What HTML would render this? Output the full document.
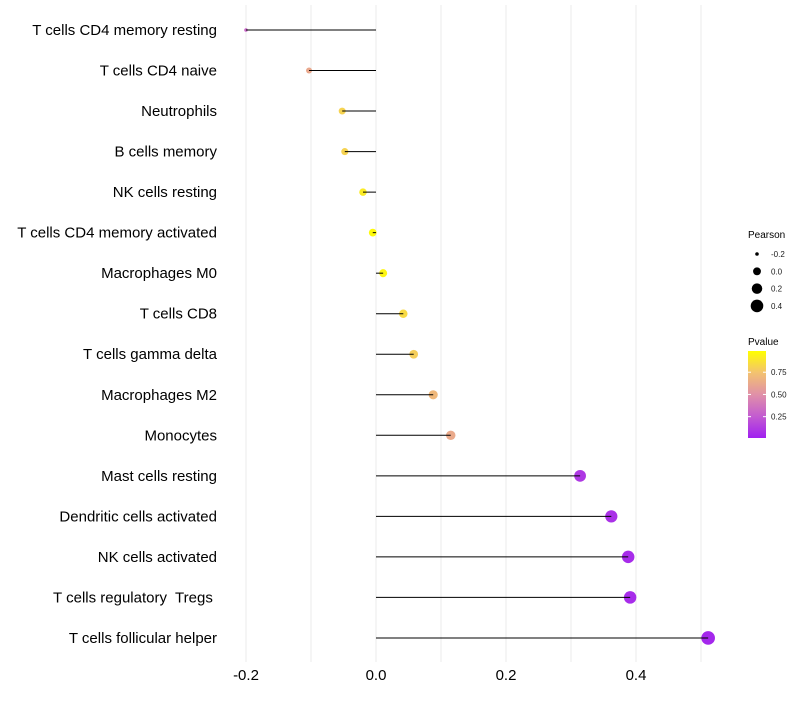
<!DOCTYPE html>
<html><head><meta charset="utf-8"><style>
body{margin:0;background:#fff;font-family:"Liberation Sans",sans-serif;}
text{white-space:pre;}
</style></head><body>
<svg id="c" width="800" height="700" xmlns="http://www.w3.org/2000/svg" style="white-space:pre"></svg>
<script>
const categories=["T cells CD4 memory resting","T cells CD4 naive","Neutrophils","B cells memory","NK cells resting","T cells CD4 memory activated","Macrophages M0","T cells CD8","T cells gamma delta","Macrophages M2","Monocytes","Mast cells resting","Dendritic cells activated","NK cells activated","T cells regulatory  Tregs ","T cells follicular helper"];
const pearson=[-0.2,-0.103,-0.052,-0.048,-0.02,-0.005,0.011,0.042,0.058,0.088,0.115,0.314,0.362,0.388,0.391,0.511];
const pvalues=[0.3,0.62,0.82,0.82,0.92,0.98,0.96,0.85,0.8,0.7,0.63,0.1,0.07,0.05,0.05,0.03];
const xTicks=[-0.2,0,0.2,0.4];
const xTickLabels=["-0.2","0.0","0.2","0.4"];
const sizeLegend=[-0.2,0,0.2,0.4];
const sizeLegendLabels=["-0.2","0.0","0.2","0.4"];
const colorTicks=[0.75,0.5,0.25];
const colorTickLabels=["0.75","0.50","0.25"];

const svg=document.getElementById('c');const NS="http://www.w3.org/2000/svg";
function mk(t,a,p){const e=document.createElementNS(NS,t);for(const k in a)e.setAttribute(k,a[k]);(p||svg).appendChild(e);return e;}
const X=v=>376+v*650;
const Y=i=>30+i*40.53;
const R=v=>Math.sqrt(Math.max(0.5,3.2+(v+0.2)*61));
const stops=[[0,[160,32,240]],[0.25,[195,92,208]],[0.5,[224,144,168]],[0.75,[243,194,112]],[1,[255,255,0]]];
function col(p){for(let i=0;i<stops.length-1;i++){const a=stops[i],b=stops[i+1];if(p<=b[0]){const t=(p-a[0])/(b[0]-a[0]);const c=a[1].map((v,j)=>Math.round(v+(b[1][j]-v)*t));return `rgb(${c})`;}}return "rgb(255,255,0)";}

const gg=mk('g',{});


for(let v=-0.2;v<=0.501;v+=0.1){mk('line',{x1:X(v),x2:X(v),y1:5,y2:662,stroke:'#ebebeb','stroke-width':1},gg);}
categories.forEach((c,i)=>{
  const g=mk('g',{});
  
  
  mk('circle',{cx:X(pearson[i]),cy:Y(i),r:R(pearson[i]),fill:col(pvalues[i])},g);
  mk('line',{x1:X(0),x2:X(pearson[i]),y1:Y(i),y2:Y(i),stroke:'#000','stroke-width':1},g);
  const t=mk('text',{x:217,y:Y(i)+5,'text-anchor':'end','font-size':15,fill:'#000'});
  
  
  t.textContent=c;
});
xTicks.forEach((v,i)=>{const t=mk('text',{x:X(v),y:680,'text-anchor':'middle','font-size':15,fill:'#000'});
  
  
  t.textContent=xTickLabels[i];});
const lt=mk('text',{x:748,y:238,'font-size':10,fill:'#000'});


lt.textContent='Pearson';
sizeLegend.forEach((v,i)=>{const y=254+i*17.3;
  const c=mk('circle',{cx:757,cy:y,r:R(v),fill:'#000'});
  
  
  const t=mk('text',{x:771,y:y+3,'font-size':8,fill:'#1a1a1a'});
  
  
  t.textContent=sizeLegendLabels[i];});
const ct=mk('text',{x:748,y:345,'font-size':10,fill:'#000'});


ct.textContent='Pvalue';
const defs=mk('defs',{});const lg=mk('linearGradient',{id:'gr',x1:0,y1:1,x2:0,y2:0},defs);
stops.forEach(s=>mk('stop',{offset:s[0],'stop-color':`rgb(${s[1]})`},lg));
const bar=mk('rect',{x:748,y:351,width:18,height:87,fill:'url(#gr)'});


const PY=p=>438-(p-0.01)*88.9;
colorTicks.forEach((p,i)=>{mk('line',{x1:748,x2:751,y1:PY(p),y2:PY(p),stroke:'#fff'});mk('line',{x1:763,x2:766,y1:PY(p),y2:PY(p),stroke:'#fff'});
  const t=mk('text',{x:771,y:PY(p)+3,'font-size':8,fill:'#1a1a1a'});
  
  
  t.textContent=colorTickLabels[i];});
</script>
</body></html>
